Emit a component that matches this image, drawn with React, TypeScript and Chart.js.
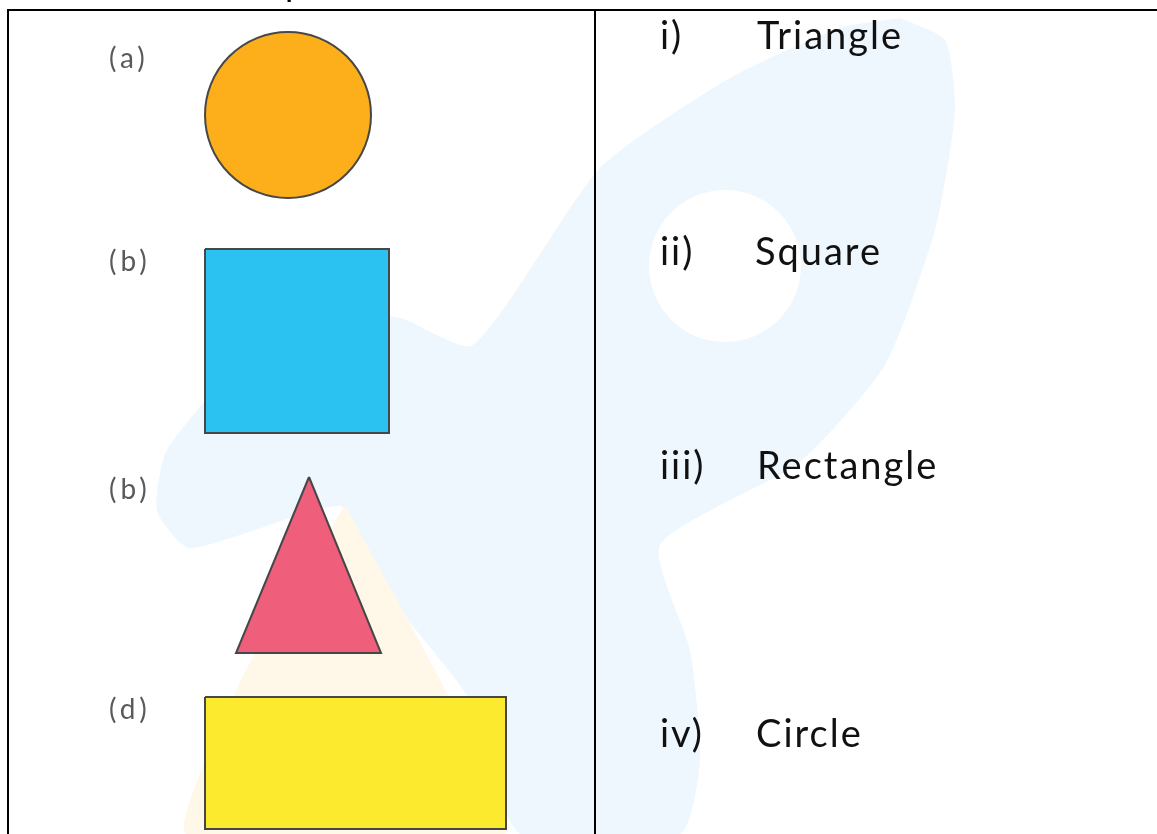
import React, { useEffect, useRef } from 'react';
import { Chart, registerables } from 'chart.js';

Chart.register(...registerables);

const PAGE_W = 1157;
const PAGE_H = 834;

// Table rules
const ruleTopX = [7, 1157];
const ruleTopY = [10, 10];
const ruleLeftX = [8, 8];
const ruleLeftY = [10, 834];
const ruleMidX = [595, 595];
const ruleMidY = [10, 834];

// Left column labels
const shapeLabels = ['(a)', '(b)', '(b)', '(d)'];
const shapeLabelX = [109, 109, 109, 109];
const shapeLabelY = [59, 262, 490, 710];

// Right column
const numerals = ['i)', 'ii)', 'iii)', 'iv)'];
const numeralX = [660, 660, 660, 660];
const shapeNames = ['Triangle', 'Square', 'Rectangle', 'Circle'];
const shapeNameX = [757, 755, 757, 756];
const textBaselineY = [49, 265, 479, 747];

// Shapes
const circleX = [288];
const circleY = [115];
const circleR = [83];
const squareX = [205, 389, 389, 205, 205];
const squareY = [249, 249, 433, 433, 249];
const triangleX = [309, 381, 236, 309];
const triangleY = [477, 653, 653, 477];
const rectangleX = [205, 506, 506, 205, 205];
const rectangleY = [697, 697, 829, 829, 697];

// Watermark (rocket)
const rocketX = [900, 945, 955, 935, 885, 800, 660, 690, 700, 680, 520, 470, 360, 340, 190, 157, 167, 250, 333, 400, 473, 600, 730, 840, 900];
const rocketY = [18, 40, 110, 230, 365, 462, 545, 650, 760, 834, 834, 700, 560, 506, 548, 511, 450, 354, 315, 318, 345, 168, 78, 28, 18];
const flameX = [345, 447, 505, 186, 243, 345];
const flameY = [505, 693, 834, 834, 676, 505];
const holeX = [725];
const holeY = [266];
const holeR = [76];

const toPts = (xs: number[], ys: number[]) => xs.map((x, i) => ({ x, y: ys[i] }));

const radiusPx = (chart: any, r: number) => {
  const s = chart.scales.x;
  if (!s) return r;
  return s.getPixelForValue(r) - s.getPixelForValue(0);
};

const polygon = (label: string, xs: number[], ys: number[], fill: string, stroke: string, width: number, order: number, tension = 0) => ({
  label,
  data: toPts(xs, ys),
  showLine: true,
  fill: 'shape',
  backgroundColor: fill,
  borderColor: stroke,
  borderWidth: width,
  borderJoinStyle: 'miter',
  pointRadius: 0,
  tension,
  order,
});

const rule = (label: string, xs: number[], ys: number[]) => ({
  label,
  data: toPts(xs, ys),
  showLine: true,
  fill: false,
  borderColor: '#000000',
  borderWidth: 2,
  pointRadius: 0,
  tension: 0,
  order: 3,
});

const disc = (label: string, xs: number[], ys: number[], rs: number[], fill: string, stroke: string, width: number, order: number) => ({
  label,
  data: toPts(xs, ys),
  showLine: false,
  pointStyle: 'circle',
  pointRadius: (ctx: any) => radiusPx(ctx.chart, rs[ctx.dataIndex ?? 0] ?? rs[0]),
  pointBackgroundColor: fill,
  pointBorderColor: stroke,
  pointBorderWidth: width,
  order,
});

const textPlugin = {
  id: 'worksheetText',
  afterDatasetsDraw(chart: any) {
    const { ctx, scales } = chart;
    const sx = scales.x;
    const sy = scales.y;
    ctx.save();
    // cut-off line of text above the table
    ctx.fillStyle = '#000000';
    ctx.font = '36px Lato';
    ctx.textBaseline = 'alphabetic';
    ctx.fillText('p', sx.getPixelForValue(285), sy.getPixelForValue(-4));

    ctx.fillStyle = '#5a5a5a';
    ctx.font = '28px Lato';
    ctx.textBaseline = 'middle';
    (ctx as any).letterSpacing = '4px';
    shapeLabels.forEach((t, i) => {
      ctx.fillText(t, sx.getPixelForValue(shapeLabelX[i]), sy.getPixelForValue(shapeLabelY[i]));
    });

    ctx.fillStyle = '#111111';
    ctx.font = '38px Lato';
    ctx.textBaseline = 'alphabetic';
    (ctx as any).letterSpacing = '2px';
    numerals.forEach((t, i) => {
      ctx.fillText(t, sx.getPixelForValue(numeralX[i]), sy.getPixelForValue(textBaselineY[i]));
    });
    shapeNames.forEach((t, i) => {
      ctx.fillText(t, sx.getPixelForValue(shapeNameX[i]), sy.getPixelForValue(textBaselineY[i]));
    });
    ctx.restore();
  },
};

export default function App() {
  const canvasRef = useRef<HTMLCanvasElement | null>(null);

  useEffect(() => {
    document.body.style.margin = '0';
    document.body.style.overflow = 'hidden';
    const canvas = canvasRef.current;
    if (!canvas) return;
    const chart = new Chart(canvas, {
      type: 'line',
      data: {
        datasets: [
          polygon('square', squareX, squareY, '#2bc1f0', '#474747', 2, 1),
          polygon('triangle', triangleX, triangleY, '#ef5e7b', '#474747', 2, 1),
          polygon('rectangle', rectangleX, rectangleY, '#fbea2e', '#474747', 2, 1),
          disc('circle', circleX, circleY, circleR, '#fcaf1a', '#474747', 2, 1),
          rule('top rule', ruleTopX, ruleTopY),
          rule('left rule', ruleLeftX, ruleLeftY),
          rule('middle rule', ruleMidX, ruleMidY),
          disc('hole', holeX, holeY, holeR, '#ffffff', 'rgba(0,0,0,0)', 0, 7),
          polygon('flame', flameX, flameY, '#fff8e9', 'rgba(0,0,0,0)', 0, 8, 0.15),
          polygon('rocket', rocketX, rocketY, '#eef7fd', 'rgba(0,0,0,0)', 0, 9, 0.2),
        ] as any,
      },
      options: {
        animation: false,
        responsive: true,
        maintainAspectRatio: false,
        events: [],
        layout: { padding: 0 },
        plugins: {
          legend: { display: false },
          tooltip: { enabled: false },
          title: { display: false },
        },
        scales: {
          x: { type: 'linear', min: 0, max: PAGE_W, display: false },
          y: { type: 'linear', min: 0, max: PAGE_H, reverse: true, display: false },
        },
      } as any,
      plugins: [textPlugin],
    });
    return () => chart.destroy();
  }, []);

  return (
    <div style={{ position: 'absolute', left: 0, top: 0, width: PAGE_W, height: PAGE_H, background: '#ffffff' }}>
      <canvas ref={canvasRef} />
    </div>
  );
}
